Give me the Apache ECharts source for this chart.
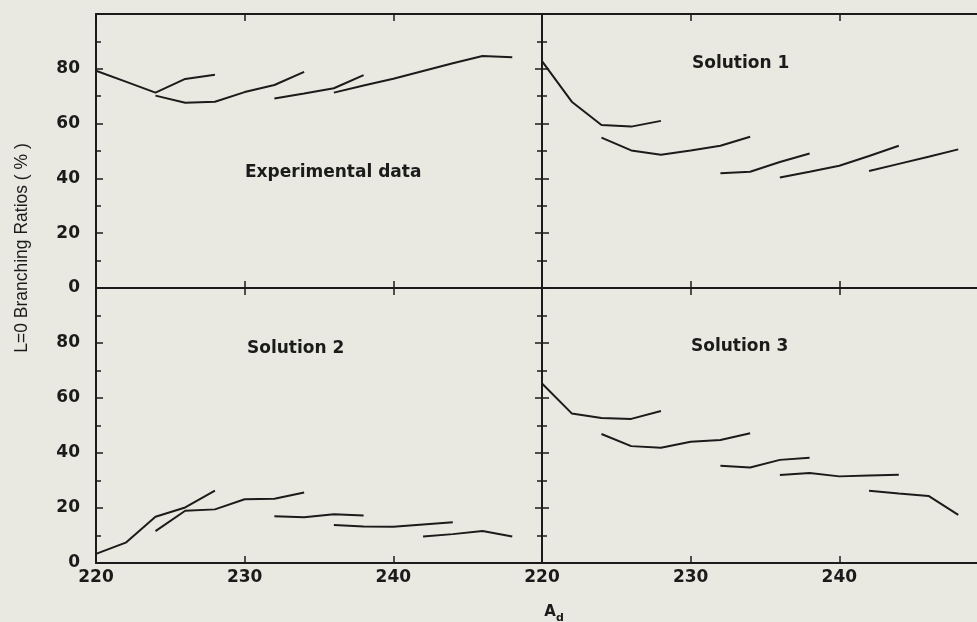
<!DOCTYPE html>
<html><head><meta charset="utf-8">
<script src="https://cdn.jsdelivr.net/npm/echarts@6/dist/echarts.min.js"></script>
<style>html,body{margin:0;padding:0;background:#e9e9e1}#c{width:977px;height:622px}</style>
</head><body><div id="c"></div>
<script>
// ---- data ----
const xTicks = [220, 230, 240];
const yTicks = [0, 20, 40, 60, 80];
const panelTitles = ['Experimental data', 'Solution 1', 'Solution 2', 'Solution 3'];
const yTitle = 'L=0 Branching Ratios ( % )';

const experimental = [
  [[220,79.3],[222,75.3],[224,71.3],[226,76.3],[228,77.8]],
  [[224,70.2],[226,67.6],[228,68.0],[230,71.5],[232,74.1],[234,78.9]],
  [[232,69.2],[234,71.0],[236,72.9],[238,77.7]],
  [[236,71.3],[238,73.9],[240,76.4],[242,79.2],[244,82.0],[246,84.7],[248,84.2]]
];
const solution1 = [
  [[220,82.8],[222,68.0],[224,59.5],[226,58.9],[228,61.0]],
  [[224,54.9],[226,50.2],[228,48.6],[230,50.2],[232,51.9],[234,55.2]],
  [[232,41.9],[234,42.4],[236,46.0],[238,49.1]],
  [[236,40.3],[238,42.4],[240,44.6],[242,48.2],[244,51.9]],
  [[242,42.7],[244,45.3],[246,47.9],[248,50.6]]
];
const solution2 = [
  [[220,3.3],[222,7.4],[224,16.8],[226,20.2],[228,26.3]],
  [[224,11.6],[226,19.0],[228,19.5],[230,23.2],[232,23.4],[234,25.6]],
  [[232,17.0],[234,16.6],[236,17.7],[238,17.3]],
  [[236,13.8],[238,13.3],[240,13.2],[242,14.0],[244,14.8]],
  [[242,9.6],[244,10.5],[246,11.6],[248,9.6]]
];
const solution3 = [
  [[220,65.3],[222,54.4],[224,52.7],[226,52.4],[228,55.3]],
  [[224,46.9],[226,42.5],[228,41.9],[230,44.1],[232,44.7],[234,47.2]],
  [[232,35.4],[234,34.7],[236,37.5],[238,38.3]],
  [[236,32.0],[238,32.7],[240,31.5],[242,31.8],[244,32.1]],
  [[242,26.3],[244,25.3],[246,24.4],[248,17.5]]
];
const panels = [experimental, solution1, solution2, solution3];

// ---- layout / style ----
const INK = '#1b1b1b';
const FONT = 'DejaVu Sans';
const gridPos = [
  {left: 96, top: 14, width: 446, height: 274},
  {left: 542, top: 14, width: 446, height: 274},
  {left: 96, top: 288, width: 446, height: 275},
  {left: 542, top: 288, width: 446, height: 275}
];
const titlePos = [[245,173],[692,64],[247,349],[691,347]];

const grid = [], xAxis = [], yAxis = [], series = [];
gridPos.forEach((g, i) => {
  grid.push(Object.assign({containLabel: false, outerBoundsMode: 'none'}, g));
  const common = {
    type: 'value', gridIndex: i, min: 220, max: 250, interval: 10,
    axisLine: {show: true, onZero: false, lineStyle: {color: INK, width: 2}},
    axisTick: {show: true, inside: true, length: 7, lineStyle: {color: INK, width: 1.5}},
    splitLine: {show: false}
  };
  xAxis.push(Object.assign({}, common, {
    position: 'bottom',
    axisLabel: {show: i >= 2, margin: 6, color: INK, fontFamily: FONT, fontWeight: 'bold', fontSize: 17,
      formatter: v => xTicks.includes(v) ? String(v) : ''}
  }));
  xAxis.push(Object.assign({}, common, {position: 'top', axisLabel: {show: false}}));
  const ycommon = {
    type: 'value', gridIndex: i, min: 0, max: 100, interval: 20,
    axisLine: {show: true, onZero: false, lineStyle: {color: INK, width: 2}},
    axisTick: {show: true, inside: true, length: 7, lineStyle: {color: INK, width: 1.5}},
    minorTick: {show: true, splitNumber: 2, length: 5, lineStyle: {color: INK, width: 1.5}},
    splitLine: {show: false}
  };
  yAxis.push(Object.assign({}, ycommon, {
    position: 'left',
    axisLabel: {show: i % 2 === 0, margin: 16, color: INK, fontFamily: FONT, fontWeight: 'bold', fontSize: 17,
      formatter: v => yTicks.includes(v) ? String(v) : ''}
  }));
  yAxis.push(Object.assign({}, ycommon, {position: 'right', axisLabel: {show: false}}));
  panels[i].forEach(chain => {
    series.push({
      type: 'line', xAxisIndex: 2 * i, yAxisIndex: 2 * i, data: chain,
      showSymbol: false, symbol: 'none', silent: true, animation: false,
      lineStyle: {color: INK, width: 2}
    });
  });
});

const graphic = panelTitles.map((t, i) => ({
  type: 'text', x: titlePos[i][0], y: titlePos[i][1],
  style: {text: t, fill: INK, font: 'bold 17px "' + FONT + '"',
    textAlign: 'left', align: 'left', textVerticalAlign: 'middle', verticalAlign: 'middle'}
}));
graphic.push({
  type: 'text', x: 22, y: 248, rotation: Math.PI / 2,
  style: {text: yTitle, fill: INK, font: '17.5px "Liberation Sans"',
    textAlign: 'center', align: 'center', textVerticalAlign: 'middle', verticalAlign: 'middle'}
});
graphic.push({
  type: 'text', x: 550, y: 612,
  style: {text: 'A', fill: INK, font: 'bold 15px "' + FONT + '"',
    textAlign: 'center', align: 'center', textVerticalAlign: 'middle', verticalAlign: 'middle'}
});
graphic.push({
  type: 'text', x: 560, y: 618,
  style: {text: 'd', fill: INK, font: 'bold 11px "' + FONT + '"',
    textAlign: 'center', align: 'center', textVerticalAlign: 'middle', verticalAlign: 'middle'}
});

const chart = echarts.init(document.getElementById('c'), null, {renderer: 'canvas'});
chart.setOption({
  backgroundColor: '#e9e9e1',
  animation: false,
  grid, xAxis, yAxis, series, graphic
});
</script></body></html>
